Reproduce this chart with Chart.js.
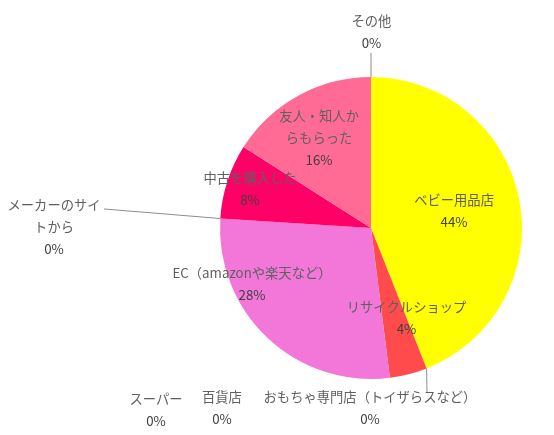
<!DOCTYPE html>
<html>
<head>
<meta charset="utf-8">
<script src="https://cdn.jsdelivr.net/npm/chart.js@4.4.1/dist/chart.umd.min.js"></script>
<style>
html,body{margin:0;padding:0;background:#fff;}
#wrap{width:554px;height:435px;position:relative;}
</style>
</head>
<body>
<div id="wrap"><canvas id="c" width="554" height="435"></canvas></div>
<script>
const categories = ['ベビー用品店','おもちゃ専門店（トイザらスなど）','リサイクルショップ','百貨店','スーパー','EC（amazonや楽天など）','メーカーのサイトから','中古を購入した','友人・知人からもらった','その他'];
const counts = [11, 0, 1, 0, 0, 7, 0, 2, 4, 0];
const sliceColors = ['#FFFF00','#8FAADC','#FF4B4B','#A5A5A5','#FFC000','#F277D9','#70AD47','#FF0066','#FF6B94','#264478'];

// label layout (block centre relative to pie centre, in radius units)
const labelPos = [
  [0.550,-0.110],[-0.007,1.192],[0.235,0.598],[-0.987,1.192],[-1.424,1.205],
  [-0.788,0.370],[-2.099,-0.007],[-0.801,-0.260],[-0.344,-0.594],[0.003,-1.300]
];
// leader line ends for zero slices (radius units), null = no line
const leaderEnd = [null,[0.371,1.093],null,null,null,null,[-1.768,-0.126],null,null,[0,-1.159]];
// wrap widths in px
const wrapWidth = [null,null,null,null,null,null,96,null,84,null];

const labelPlugin = {
  id:'pieLabels',
  afterDatasetsDraw(chart){
    const ctx = chart.ctx;
    const meta = chart.getDatasetMeta(0);
    const data = chart.data.datasets[0].data;
    const total = data.reduce((a,b)=>a+b,0);
    const font = '13.3px "Noto Sans CJK JP", "Noto Sans", sans-serif';
    ctx.save();
    ctx.font = font;
    ctx.textAlign='center';
    ctx.textBaseline='middle';
    meta.data.forEach((arc,i)=>{
      const {x,y,outerRadius:r,startAngle} = arc.getProps(['x','y','outerRadius','startAngle'],true);
      // leader line
      const le = leaderEnd[i];
      if (le){
        ctx.strokeStyle='#8c8c8c';
        ctx.lineWidth=1;
        ctx.beginPath();
        ctx.moveTo(x + r*Math.cos(startAngle), y + r*Math.sin(startAngle));
        ctx.lineTo(x + le[0]*r, y + le[1]*r);
        ctx.stroke();
      }
      // text lines
      const name = chart.data.labels[i];
      let lines = [];
      const ww = wrapWidth[i];
      if (ww){
        let cur='';
        for (const ch of name){
          if (ctx.measureText(cur+ch).width > ww && cur){ lines.push(cur); cur=ch; }
          else cur+=ch;
        }
        if (cur) lines.push(cur);
      } else lines=[name];
      const pct = Math.round(data[i]/total*100)+'%';
      const all = lines.map(t=>({t,c:'#606060'}));
      all.push({t:pct,c:'#404040'});
      const lh = 22;
      const cx = x + labelPos[i][0]*r;
      const cy = y + labelPos[i][1]*r;
      const y0 = cy - (all.length-1)*lh/2;
      all.forEach((l,k)=>{
        ctx.fillStyle=l.c;
        ctx.fillText(l.t, cx, y0 + k*lh);
      });
    });
    ctx.restore();
  }
};

new Chart(document.getElementById('c'),{
  type:'pie',
  data:{
    labels:categories,
    datasets:[{data:counts, backgroundColor:sliceColors, borderWidth:0}]
  },
  options:{
    responsive:false,
    animation:false,
    layout:{padding:{left:220,right:32,top:77,bottom:56}},
    plugins:{legend:{display:false},tooltip:{enabled:false}}
  },
  plugins:[labelPlugin]
});
</script>
</body>
</html>
